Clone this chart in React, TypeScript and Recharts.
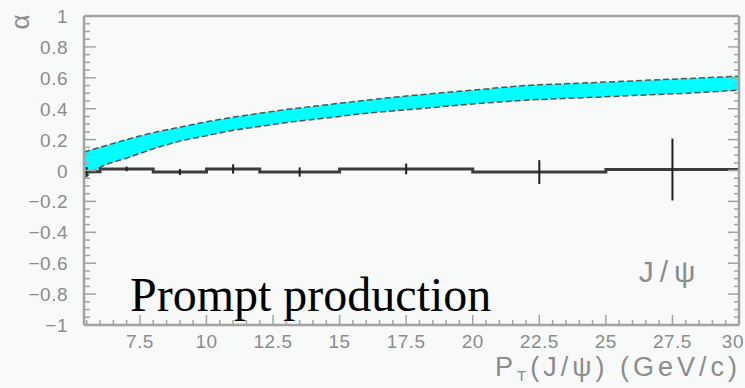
import React from 'react';
import { ComposedChart, XAxis, YAxis, Area, Line, Scatter, ErrorBar } from 'recharts';

// Theory band (alpha vs pT)
const bandPt = [5.4, 6, 7, 8, 9, 10, 11, 12, 13, 14, 15, 16, 18, 20, 22, 24, 26, 28, 30];
const bandLow = [-0.05, 0.02, 0.08, 0.14, 0.19, 0.225, 0.26, 0.285, 0.31, 0.33, 0.35, 0.37, 0.4, 0.43, 0.455, 0.47, 0.485, 0.5, 0.52];
const bandHigh = [0.12, 0.15, 0.2, 0.245, 0.28, 0.315, 0.345, 0.37, 0.395, 0.415, 0.435, 0.455, 0.49, 0.52, 0.55, 0.565, 0.58, 0.595, 0.61];

// Histogram (prompt production)
const binEdges = [5.4, 6, 8, 10, 12, 15, 20, 25, 30];
const binCenters = [5.5, 7, 9, 11, 13.5, 17.5, 22.5, 27.5];
const binValues = [-0.008, 0.01, -0.01, 0.01, -0.01, 0.01, -0.01, 0.006];
const binErrors = [0.03, 0.015, 0.02, 0.03, 0.03, 0.035, 0.077, 0.2];

// Axis ticks
const xMajorTicks = [7.5, 10, 12.5, 15, 17.5, 20, 22.5, 25, 27.5, 30];
const xTickLabels = ['7.5', '10', '12.5', '15', '17.5', '20', '22.5', '25', '27.5', '30'];
const yMajorTicks = [-1, -0.8, -0.6, -0.4, -0.2, 0, 0.2, 0.4, 0.6, 0.8, 1];
const yTickLabels = ['\u22121', '\u22120.8', '\u22120.6', '\u22120.4', '\u22120.2', '0', '0.2', '0.4', '0.6', '0.8', '1'];

const xAllTicks: number[] = [];
for (let i = 0; i < 50; i++) xAllTicks.push(5.5 + i * 0.5);
const yAllTicks: number[] = [];
for (let i = 0; i <= 40; i++) yAllTicks.push(Math.round((-1 + i * 0.05) * 100) / 100);

const bandData = bandPt.map((x, i) => ({ x, range: [bandLow[i], bandHigh[i]] }));
const histData: { x: number; y: number }[] = [];
binValues.forEach((v, i) => {
  histData.push({ x: binEdges[i], y: v });
  histData.push({ x: binEdges[i + 1], y: v });
});
const pointData = binCenters.map((x, i) => ({ x, y: binValues[i], err: binErrors[i] }));

const FRAME = '#a3a3a3';
const LABEL = '#8c8c8c';
const SANS = '"Liberation Sans", Arial, Helvetica, sans-serif';

const xMajorIndex = (v: number) => xMajorTicks.findIndex((t) => Math.abs(t - v) < 1e-6);
const yMajorIndex = (v: number) => yMajorTicks.findIndex((t) => Math.abs(t - v) < 1e-6);

const XTickBottom = (props: any) => {
  const { x, y, payload } = props;
  const idx = xMajorIndex(payload.value);
  const major = idx >= 0;
  const last = idx === xMajorTicks.length - 1;
  return (
    <g>
      <line x1={x} x2={x} y1={y} y2={y - (major ? 10 : 5)} stroke={FRAME} strokeWidth={1.5} />
      {major && (
        <text
          x={last ? 744 : x}
          y={y + 23}
          textAnchor={last ? 'end' : 'middle'}
          fontSize={19}
          letterSpacing={0.5}
          fontFamily={SANS}
          fill={LABEL}
        >
          {xTickLabels[idx]}
        </text>
      )}
    </g>
  );
};

const XTickTop = (props: any) => {
  const { x, y, payload } = props;
  const major = xMajorIndex(payload.value) >= 0;
  return <line x1={x} x2={x} y1={y} y2={y + (major ? 11 : 6)} stroke={FRAME} strokeWidth={1.5} />;
};

const YTickLeft = (props: any) => {
  const { x, y, payload } = props;
  const idx = yMajorIndex(payload.value);
  const major = idx >= 0;
  return (
    <g>
      <line x1={x} x2={x + (major ? 12 : 6)} y1={y} y2={y} stroke={FRAME} strokeWidth={1.5} />
      {major && (
        <text
          x={x - 16}
          y={y + 7}
          textAnchor="end"
          fontSize={19}
          letterSpacing={0.5}
          fontFamily={SANS}
          fill={LABEL}
        >
          {yTickLabels[idx]}
        </text>
      )}
    </g>
  );
};

const YTickRight = (props: any) => {
  const { x, y, payload } = props;
  const major = yMajorIndex(payload.value) >= 0;
  return <line x1={x} x2={x - (major ? 11 : 5)} y1={y} y2={y} stroke={FRAME} strokeWidth={1.5} />;
};

export default function App() {
  return (
    <div style={{ position: 'absolute', left: 0, top: 0, width: 745, height: 388, background: '#f7faf8' }}>
      <ComposedChart width={745} height={388} margin={{ top: 15, right: 5, bottom: 62, left: 83 }}>
        <XAxis
          xAxisId="b"
          dataKey="x"
          type="number"
          domain={[5.4, 30]}
          allowDataOverflow
          ticks={xAllTicks}
          interval={0}
          height={1}
          tickSize={0}
          tickMargin={0}
          tickLine={false}
          axisLine={{ stroke: FRAME, strokeWidth: 2.5 }}
          tick={XTickBottom}
        />
        <XAxis
          xAxisId="t"
          orientation="top"
          type="number"
          domain={[5.4, 30]}
          allowDataOverflow
          ticks={xAllTicks}
          interval={0}
          height={1}
          tickSize={0}
          tickMargin={0}
          tickLine={false}
          axisLine={{ stroke: FRAME, strokeWidth: 2.5 }}
          tick={XTickTop}
        />
        <YAxis
          yAxisId="l"
          type="number"
          domain={[-1, 1]}
          allowDataOverflow
          ticks={yAllTicks}
          interval={0}
          width={1}
          tickSize={0}
          tickMargin={0}
          tickLine={false}
          axisLine={{ stroke: FRAME, strokeWidth: 2.5 }}
          tick={YTickLeft}
        />
        <YAxis
          yAxisId="r"
          orientation="right"
          type="number"
          domain={[-1, 1]}
          allowDataOverflow
          ticks={yAllTicks}
          interval={0}
          width={1}
          tickSize={0}
          tickMargin={0}
          tickLine={false}
          axisLine={{ stroke: FRAME, strokeWidth: 2.5 }}
          tick={YTickRight}
        />
        <Area
          xAxisId="b"
          yAxisId="l"
          data={bandData}
          dataKey="range"
          type="monotone"
          fill="#00ffff"
          fillOpacity={1}
          stroke="#555555"
          strokeWidth={1.5}
          strokeDasharray="6 3"
          isAnimationActive={false}
          dot={false}
          activeDot={false}
        />
        <Line
          xAxisId="b"
          yAxisId="l"
          data={histData}
          dataKey="y"
          type="linear"
          stroke="#3c3c3c"
          strokeWidth={3}
          dot={false}
          activeDot={false}
          isAnimationActive={false}
        />
        <Scatter
          xAxisId="b"
          yAxisId="l"
          data={pointData}
          dataKey="y"
          shape={() => <g />}
          isAnimationActive={false}
        >
          <ErrorBar dataKey="err" direction="y" width={0} stroke="#1e1e1e" strokeWidth={2} isAnimationActive={false} />
        </Scatter>
      </ComposedChart>
      <svg
        width={745}
        height={388}
        style={{ position: 'absolute', left: 0, top: 0, pointerEvents: 'none' }}
      >
        <text
          x={20}
          y={22}
          transform="rotate(-90 20 22)"
          textAnchor="middle"
          dominantBaseline="central"
          fontSize={26}
          fontFamily={SANS}
          fill={LABEL}
        >
          α
        </text>
        <text x={670} y={282} textAnchor="middle" fontSize={30} fontFamily={SANS} fill={LABEL} letterSpacing={6}>
          J/ψ
        </text>
        <text x={741} y={376} textAnchor="end" fontSize={27} fontFamily={SANS} fill={LABEL} letterSpacing={4}>
          P
          <tspan fontSize={15} dy={5}>T</tspan>
          <tspan dy={-5}>(J/ψ) (GeV/c)</tspan>
        </text>
        <text x={130} y={311} fontSize={48} fontFamily='"Liberation Serif", "Times New Roman", serif' fill="#000000">
          Prompt production
        </text>
      </svg>
    </div>
  );
}
